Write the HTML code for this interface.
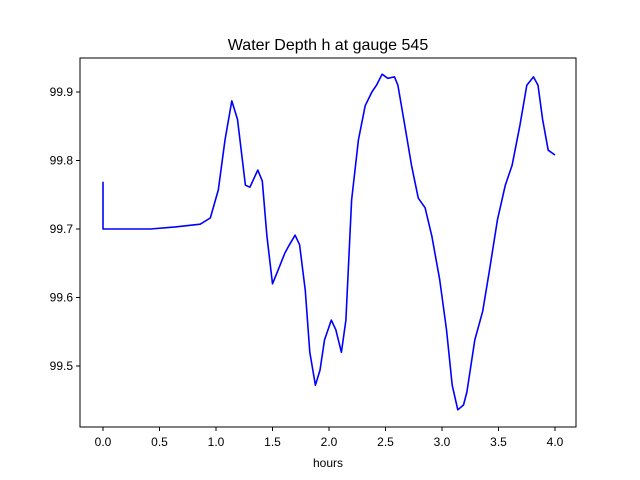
<!DOCTYPE html>
<html><head><meta charset="utf-8"><style>
body{margin:0;background:#fff;}
svg{display:block;font-family:"Liberation Sans","DejaVu Sans",sans-serif;}
</style></head><body>
<svg id="chart" width="640" height="480">
<rect width="640" height="480" fill="#fff"/>
<text x="328" y="50" font-size="16" text-anchor="middle">Water Depth h at gauge 545</text>
<g id="xticks"></g>
<g id="yticks"></g>
<text x="328" y="467" font-size="12" text-anchor="middle">hours</text>
<g id="series"></g>
<rect x="80" y="58" width="496" height="369" fill="none" stroke="#000" stroke-width="1"/>
</svg>
<script>
const hours=[0,0,0.42,0.64,0.86,0.95,1.02,1.08,1.14,1.19,1.26,1.30,1.37,1.41,1.45,1.50,1.55,1.61,1.65,1.70,1.74,1.79,1.83,1.88,1.92,1.96,2.02,2.06,2.11,2.15,2.20,2.26,2.32,2.38,2.42,2.47,2.52,2.58,2.61,2.67,2.73,2.79,2.85,2.91,2.98,3.04,3.09,3.14,3.19,3.22,3.29,3.36,3.42,3.49,3.56,3.62,3.69,3.75,3.81,3.85,3.89,3.94,4.0];
const depth=[99.769,99.70,99.70,99.703,99.707,99.716,99.757,99.83,99.887,99.86,99.764,99.761,99.786,99.77,99.69,99.62,99.64,99.665,99.677,99.691,99.677,99.61,99.52,99.472,99.494,99.538,99.567,99.553,99.52,99.567,99.742,99.83,99.88,99.90,99.91,99.926,99.92,99.922,99.91,99.852,99.793,99.745,99.731,99.69,99.626,99.553,99.472,99.436,99.443,99.462,99.538,99.58,99.64,99.713,99.764,99.793,99.852,99.91,99.922,99.91,99.86,99.815,99.808];
const xTicks=[0,0.5,1,1.5,2,2.5,3,3.5,4];
const xTickLabels=["0.0","0.5","1.0","1.5","2.0","2.5","3.0","3.5","4.0"];
const yTicks=[99.5,99.6,99.7,99.8,99.9];
const yTickLabels=["99.5","99.6","99.7","99.8","99.9"];
const NS="http://www.w3.org/2000/svg";
const X=t=>103+t*113;
const Y=v=>92+(99.9-v)*685;
function mk(tag,attrs,parent){const e=document.createElementNS(NS,tag);for(const k in attrs)e.setAttribute(k,attrs[k]);parent.appendChild(e);return e;}
const xg=document.getElementById('xticks');
xTicks.forEach((t,i)=>{
 const l=mk('line',{x1:X(t),x2:X(t),y1:427,y2:431,stroke:'#000'},xg);
 
 
 const tx=mk('text',{x:X(t),y:446,'font-size':12,'text-anchor':'middle'},xg);
 tx.textContent=xTickLabels[i];
 
 
});
const yg=document.getElementById('yticks');
yTicks.forEach((v,i)=>{
 const l=mk('line',{x1:76,x2:80,y1:Y(v),y2:Y(v),stroke:'#000'},yg);
 
 
 const tx=mk('text',{x:73,y:Y(v)+4,'font-size':12,'text-anchor':'end'},yg);
 tx.textContent=yTickLabels[i];
 
 
});
const pts=hours.map((t,i)=>X(t).toFixed(1)+','+Y(depth[i]).toFixed(1)).join(' ');
const pl=mk('polyline',{points:pts,fill:'none',stroke:'#0000ff','stroke-width':1.6,'stroke-linejoin':'round'},document.getElementById('series'));


</script>
</body></html>
